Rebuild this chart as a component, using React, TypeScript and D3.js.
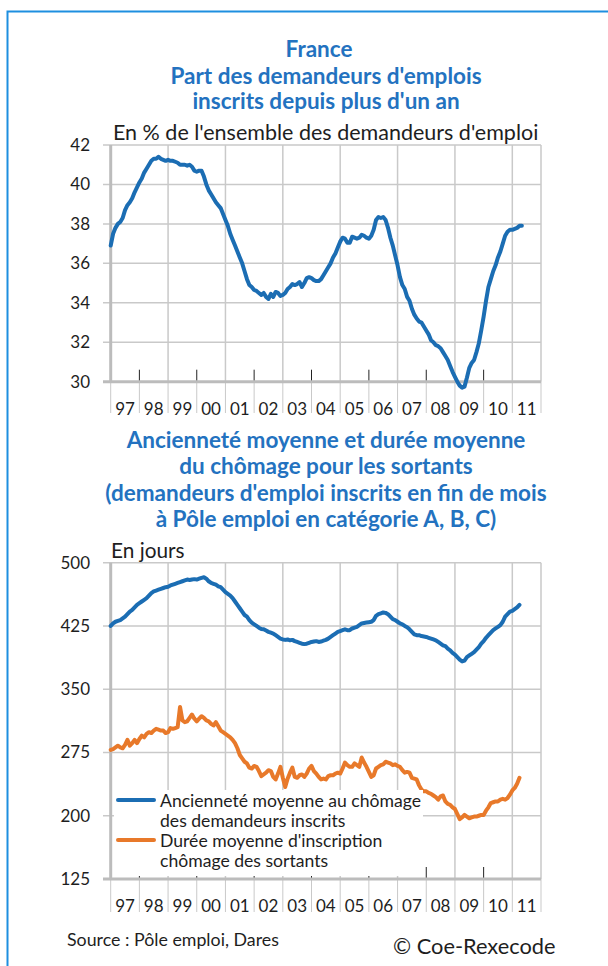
import React from "react";
import * as d3 from "d3";

// Tick labels (years)
const years = ["97", "98", "99", "00", "01", "02", "03", "04", "05", "06", "07", "08", "09", "10", "11"];
const topTicks = [30, 32, 34, 36, 38, 40, 42];
const bottomTicks = [125, 200, 275, 350, 425, 500];

// Monthly series from Jan 1997
const partLongue = [
  36.9, 37.5, 37.8, 38.0, 38.1, 38.3, 38.7, 38.95, 39.1, 39.3, 39.6, 39.85,
  40.1, 40.3, 40.6, 40.8, 41.0, 41.2, 41.3, 41.3, 41.4, 41.3, 41.25, 41.2,
  41.25, 41.2, 41.2, 41.15, 41.1, 41.0, 41.0, 41.0, 40.95, 41.0, 40.9, 40.7,
  40.65, 40.7, 40.7, 40.4, 40.0, 39.7, 39.5, 39.3, 39.1, 38.95, 38.8, 38.5,
  38.2, 37.9, 37.5, 37.2, 36.9, 36.6, 36.3, 36.0, 35.6, 35.2, 34.9, 34.8,
  34.65, 34.6, 34.5, 34.4, 34.5, 34.3, 34.2, 34.45, 34.3, 34.55, 34.5, 34.35,
  34.4, 34.5, 34.7, 34.8, 34.95, 34.9, 34.95, 35.05, 34.8, 35.0, 35.25, 35.3,
  35.25, 35.15, 35.1, 35.1, 35.2, 35.4, 35.6, 35.8, 36.0, 36.3, 36.5, 36.8,
  37.1, 37.3, 37.25, 37.05, 37.05, 37.35, 37.3, 37.25, 37.3, 37.45, 37.4, 37.3,
  37.25, 37.4, 37.7, 38.2, 38.35, 38.3, 38.35, 38.2, 37.8, 37.3, 36.9, 36.4,
  35.9, 35.3, 34.9, 34.7, 34.3, 34.1, 33.7, 33.4, 33.2, 33.05, 33.0, 32.8,
  32.6, 32.4, 32.1, 32.0, 31.85, 31.8, 31.7, 31.5, 31.3, 31.1, 30.8, 30.5,
  30.25, 30.0, 29.8, 29.7, 29.75, 30.2, 30.7, 30.95, 31.1, 31.5, 31.95, 32.6,
  33.3, 34.1, 34.8, 35.2, 35.6, 35.9, 36.3, 36.6, 37.0, 37.4, 37.6, 37.7,
  37.7, 37.75, 37.8, 37.9, 37.9,
];

const anciennete = [
  425, 428, 430, 431, 432, 434, 436, 439, 442, 444, 447, 450,
  452, 454, 456, 458, 461, 464, 466, 467, 468, 469, 470, 471,
  471.5, 473, 474, 475, 476, 477, 478, 479, 480, 479.5, 480, 480.5,
  480, 481, 482, 482.7, 481, 478, 476, 475, 474, 472, 471, 468,
  465, 463, 461, 458, 454, 450, 446, 442, 438, 436, 432, 429,
  427, 425, 423, 421.5, 421, 419.5, 418, 417, 416, 414, 412, 410,
  409, 408.5, 409, 408, 408.5, 407, 406, 405, 404, 403.5, 404, 405,
  406, 406.5, 407, 406, 406.5, 407.5, 408.5, 410, 412, 414, 416, 418,
  419, 420, 421, 420, 420, 422, 423, 424, 426, 428, 428.5, 429,
  429.5, 430, 432, 437, 439, 440, 441, 440.5, 439, 436, 433, 432,
  430, 428, 427, 425, 423.5, 421, 418, 415, 414, 414, 413, 412.5,
  412, 411, 410, 409, 408, 406, 404, 402, 401, 398, 396, 393,
  391, 388, 385, 383, 384, 388, 390, 392, 394, 397, 400, 404,
  407, 411, 414, 417, 420, 422, 424, 426, 430, 436, 439, 442,
  443, 445, 447, 450,
];

const dureeSortants = [
  278, 279, 281, 283, 281, 280, 284, 290, 283, 286, 290, 286,
  291, 295, 293, 297, 299, 298, 301, 303, 302, 301, 301, 298,
  299, 304, 303, 304, 305, 329, 313, 311, 312, 316, 320, 315,
  312, 315, 318, 316, 313, 312, 309, 307, 311, 306, 301, 299,
  297, 295, 293, 290, 286, 280, 272, 268, 264, 262, 257, 256,
  259, 258, 253, 247, 249, 251, 254, 253, 246, 243, 250, 258,
  245, 234, 244, 251, 257, 246, 245, 248, 249, 246, 250, 256,
  259, 253, 250, 246, 243, 244, 243, 247, 248, 248, 250, 251,
  250, 256, 263, 260, 258, 258, 262, 260, 258, 269, 263, 258,
  252, 246, 248, 256, 258, 260, 261, 264, 263, 262, 260, 261,
  259, 258, 254, 251, 252, 251, 245, 244, 243, 236, 231, 229,
  229, 227, 226, 224, 222, 219, 223, 224, 217, 214, 213, 210,
  208, 202, 196, 198, 201, 199, 197, 198, 199, 199, 200, 201,
  201, 206, 210, 215, 216, 217, 217, 219, 220, 219, 221, 225,
  230, 233, 238, 245,
];

const legendLabels = [
  ["Ancienneté moyenne au chômage", "des demandeurs inscrits"],
  ["Durée moyenne d'inscription", "chômage des sortants"],
];

const BLUE = "#1b6db3";
const ORANGE = "#e8792a";
const TITLE = "#2372c0";
const GRID = "#c9c9c9";
const AXIS = "#bcbcbc";
const TEXT = "#1e1e1e";
const FONT = "Lato, 'Open Sans', sans-serif";

const x = d3.scaleLinear().domain([0, 180]).range([110.7, 541]);

function Panel({ y, ticks, axisY, topY, labelsBottom }: any) {
  const yearIdx = d3.range(0, 16);
  return (
    <g>
      {ticks.map((t: number) => (
        <line key={"h" + t} x1={103} x2={541} y1={y(t)} y2={y(t)} stroke={GRID} strokeWidth={1.5} />
      ))}
      {yearIdx.filter((i) => i % 2 === 0 || i === 15).map((i) => (
        <line key={"v" + i} x1={x(i * 12)} x2={x(i * 12)} y1={topY} y2={axisY} stroke={GRID} strokeWidth={1.5} />
      ))}
      {yearIdx.map((i) => (
        <line key={"s" + i} x1={x(i * 12)} x2={x(i * 12)} y1={axisY} y2={labelsBottom} stroke={GRID} strokeWidth={1} />
      ))}
      {yearIdx.filter((i) => i % 2 === 1 && i < 15).map((i) => (
        <line key={"t" + i} x1={x(i * 12)} x2={x(i * 12)} y1={axisY - 12} y2={axisY} stroke="#222" strokeWidth={1} />
      ))}
      <line x1={110.7} x2={110.7} y1={topY} y2={axisY} stroke={AXIS} strokeWidth={3} />
      <line x1={103} x2={541} y1={axisY} y2={axisY} stroke={AXIS} strokeWidth={3} />
      {ticks.map((t: number) => (
        <text key={"yl" + t} x={90} y={y(t) + 6} textAnchor="end" fontSize={17} fill={TEXT} fontFamily={FONT}>
          {t}
        </text>
      ))}
      {years.map((yy, i) => (
        <text key={"xl" + yy} x={x(i * 12 + 6)} y={axisY + 33} textAnchor="middle" fontSize={17} fill={TEXT} fontFamily={FONT}>
          {yy}
        </text>
      ))}
    </g>
  );
}

export default function App() {
  const yTop = d3.scaleLinear().domain([30, 42]).range([381.7, 145]);
  const yBot = d3.scaleLinear().domain([125, 500]).range([879, 562.7]);

  const lineTop = d3.line<number>().x((_, i) => x(i)).y((d) => yTop(d));
  const lineBot = d3.line<number>().x((_, i) => x(i)).y((d) => yBot(d));

  return (
    <svg width={608} height={966} style={{ position: "absolute", left: 0, top: 0 }} fontFamily={FONT}>
      <rect x={0} y={0} width={608} height={966} fill="#fff" />
      <path d="M7.5,966 L7.5,11.5 L608,11.5" fill="none" stroke="#1e8fe0" strokeWidth={2} />

      <g fontWeight="bold" fill={TITLE} fontSize={22.5} textAnchor="middle">
        <text x={319} y={57}>France</text>
        <text x={326} y={84}>Part des demandeurs d'emplois</text>
        <text x={326} y={109}>inscrits depuis plus d'un an</text>
      </g>
      <text x={113} y={139.5} fontSize={21.5} fill={TEXT}>En % de l'ensemble des demandeurs d'emploi</text>

      <Panel y={yTop} ticks={topTicks} axisY={381.7} topY={145} labelsBottom={413} />
      <path d={lineTop(partLongue) || ""} fill="none" stroke={BLUE} strokeWidth={4} strokeLinejoin="round" strokeLinecap="round" />

      <g fontWeight="bold" fill={TITLE} fontSize={22.5} textAnchor="middle">
        <text x={326} y={448}>Ancienneté moyenne et durée moyenne</text>
        <text x={326} y={474}>du chômage pour les sortants</text>
        <text x={326} y={501}>(demandeurs d'emploi inscrits en fin de mois</text>
        <text x={326} y={527}>à Pôle emploi en catégorie A, B, C)</text>
      </g>
      <text x={111} y={558} fontSize={20.8} fill={TEXT}>En jours</text>

      <Panel y={yBot} ticks={bottomTicks} axisY={879} topY={562.7} labelsBottom={912} />
      <path d={lineBot(anciennete) || ""} fill="none" stroke={BLUE} strokeWidth={4} strokeLinejoin="round" strokeLinecap="round" />
      <path d={lineBot(dureeSortants) || ""} fill="none" stroke={ORANGE} strokeWidth={4} strokeLinejoin="round" strokeLinecap="round" />

      <rect x={114} y={790} width={309} height={86} fill="#fff" />
      <line x1={118} x2={154} y1={800} y2={800} stroke={BLUE} strokeWidth={4} strokeLinecap="round" />
      <line x1={118} x2={154} y1={840} y2={840} stroke={ORANGE} strokeWidth={4} strokeLinecap="round" />
      {legendLabels.map((lbl, k) => (
        <g key={k} fontSize={17.6} fill={TEXT}>
          <text x={160} y={806.5 + k * 40}>{lbl[0]}</text>
          <text x={160} y={826.5 + k * 40}>{lbl[1]}</text>
        </g>
      ))}

      <text x={67} y={946} fontSize={17.8} fill={TEXT}>Source : Pôle emploi, Dares</text>
      <text x={393} y={954} fontSize={21.8} fill={TEXT}>© Coe-Rexecode</text>
    </svg>
  );
}
